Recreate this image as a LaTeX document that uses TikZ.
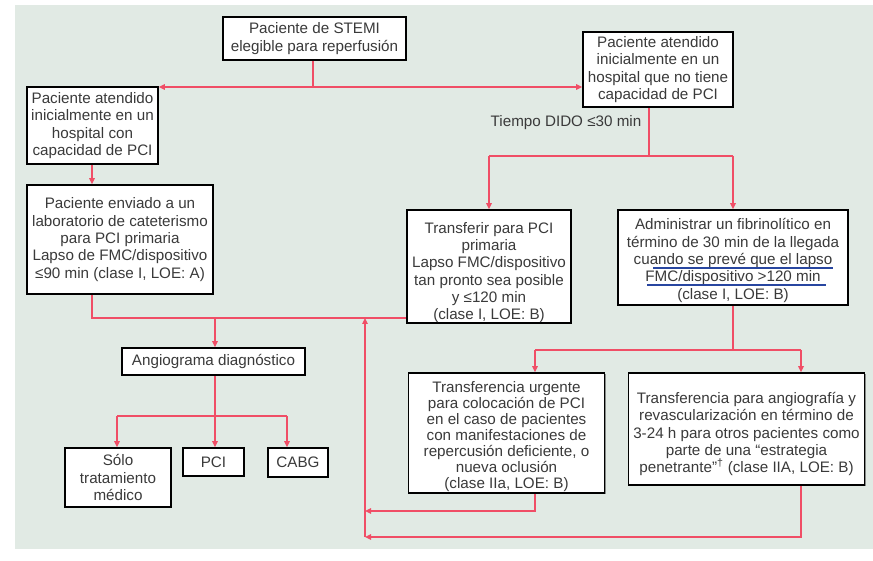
\documentclass[tikz,border=0pt]{standalone}
\usepackage{fontspec}
\setmainfont{Liberation Sans}
\usetikzlibrary{arrows.meta,shadows}
\definecolor{panel}{RGB}{225,234,228}
\definecolor{conn}{RGB}{240,78,102}
\definecolor{txt}{RGB}{58,58,58}
\definecolor{ublue}{RGB}{40,70,160}
\begin{document}
\begin{tikzpicture}[x=1pt,y=-1pt,
  box/.style={draw=black,line width=1.6pt,fill=white,text=txt,align=center,inner sep=2pt,
    font=\fontsize{15.2}{17.3}\selectfont,
    drop shadow={shadow xshift=1.3pt,shadow yshift=-1.3pt,fill=black!70,opacity=0.6}},
  bt/.style={text=txt,align=center,inner sep=0pt,font=\fontsize{15.2}{17.3}\selectfont},
  ln/.style={draw=conn,line width=1.8pt},
  arr/.style={ln,-{Triangle[length=6pt,width=5.5pt]}},
  lbl/.style={text=txt,font=\fontsize{15.2}{17.3}\selectfont,inner sep=0pt},
  uline/.style={draw=ublue,line width=1.3pt}]
\useasboundingbox (0,0) rectangle (873,561);
\fill[white] (0,0) rectangle (873,561);
\fill[panel] (15,5) rectangle (873,549);

% boxes
\node[box,minimum width=183pt,minimum height=43pt] (b1) at (314.5,38.5)
  {Paciente de STEMI\\elegible para reperfusión};
\node[box,minimum width=131pt,minimum height=77pt] (b2) at (92.5,125.5)
  {Paciente atendido\\inicialmente en un\\hospital con\\capacidad de PCI};
\node[box,minimum width=186pt,minimum height=109pt] (b3) at (120,239.5)
  {Paciente enviado a un\\laboratorio de cateterismo\\para PCI primaria\\Lapso de FMC/dispositivo\\≤90 min (clase I, LOE: A)};
\node[box,minimum width=150pt,minimum height=75pt] (b4) at (658,69.5)
  {Paciente atendido\\inicialmente en un\\hospital que no tiene\\capacidad de PCI};
\node[box,minimum width=164pt,minimum height=113pt] (b5) at (489,266.5) {};
\node[bt] (b5t) at ([yshift=-6pt]b5.center)
  {Transferir para PCI\\primaria\\Lapso FMC/dispositivo\\tan pronto sea posible\\y ≤120 min\\(clase I, LOE: B)};
\node[box,minimum width=230pt,minimum height=95pt] (b6) at (733,257.5) {};
\node[bt] (b6t) at ([yshift=-3pt]b6.center)
  {Administrar un fibrinolítico en\\término de 30 min de la llegada\\cuando se prevé que el lapso\\FMC/dispositivo >120 min\\(clase I, LOE: B)};
\node[box,minimum width=196pt,minimum height=120pt] (b7) at (506.5,433) {};
\node[bt,font=\fontsize{15.2}{16.1}\selectfont] (b7t) at ([yshift=-3.5pt]b7.center)
  {Transferencia urgente\\para colocación de PCI\\en el caso de pacientes\\con manifestaciones de\\repercusión deficiente, o\\nueva oclusión\\(clase IIa, LOE: B)};
\node[box,minimum width=236pt,minimum height=112pt] (b8) at (746.5,429) {};
\node[bt,font=\fontsize{15.2}{17.1}\selectfont] (b8t) at ([yshift=-5pt]b8.center)
  {Transferencia para angiografía y\\revascularización en término de\\3-24 h para otros pacientes como\\parte de una “estrategia\\penetrante”\textsuperscript{†} (clase IIA, LOE: B)};
\node[box,minimum width=183pt,minimum height=27pt] (angio) at (213.5,361.5)
  {Angiograma diagnóstico};
\node[box,minimum width=106pt,minimum height=59pt] (solo) at (118,477.5)
  {Sólo\\tratamiento\\médico};
\node[box,minimum width=61pt,minimum height=28pt] (pci) at (213.5,462)
  {PCI};
\node[box,minimum width=60pt,minimum height=29pt] (cabg) at (298,462.5)
  {CABG};

\node[lbl] (dido) at (566,123) {Tiempo DIDO ≤30 min};

% underlines
\draw[uline] (653,268) -- (833,268);
\draw[uline] (647,285) -- (826,285);

% junctions
\coordinate (j1) at (313,87);
\coordinate (j2) at (92,318);
\coordinate (ret) at (365,318);
\coordinate (j3) at (649,156);
\coordinate (j5) at (215,416);
\coordinate (s1) at (117,416);
\coordinate (s3) at (287,416);
\coordinate (k7) at (535,350);
\coordinate (k8) at (801,350);
\coordinate (r1) at (365,511);
\coordinate (r2) at (365,537);

% connectors
\draw[ln] (b1.south -| j1) -- (j1);
\draw[arr] (j1) -- (j1 -| b2.east);
\draw[arr] (j1) -- (j1 -| b4.west);
\draw[arr] (b2.south -| j2) -- (b3.north -| j2);
\draw[ln] (b3.south -| j2) -- (j2) -- (j2 -| b5.west);
\draw[arr] (j2 -| j5) -- (angio.north -| j5);
\draw[arr] (r2) -- (ret);

\draw[ln] (b4.south -| j3) -- (j3);
\draw[ln] (j3 -| b5.north) -- (j3 -| b6.north);
\draw[arr] (j3 -| b5.north) -- (b5.north);
\draw[arr] (j3 -| b6.north) -- (b6.north);

\draw[ln] (b6.south) -- (b6.south |- k7);
\draw[ln] (k7) -- (k8);
\draw[arr] (k7) -- (k7 |- b7.north);
\draw[arr] (k8) -- (k8 |- b8.north);
\draw[arr] (k7 |- b7.south) |- (r1);
\draw[arr] (k8 |- b8.south) |- (r2);

\draw[ln] (angio.south -| j5) -- (j5);
\draw[ln] (s1) -- (s3);
\draw[arr] (s1) -- (s1 |- solo.north);
\draw[arr] (j5) -- (j5 |- pci.north);
\draw[arr] (s3) -- (s3 |- cabg.north);
\end{tikzpicture}
\end{document}
